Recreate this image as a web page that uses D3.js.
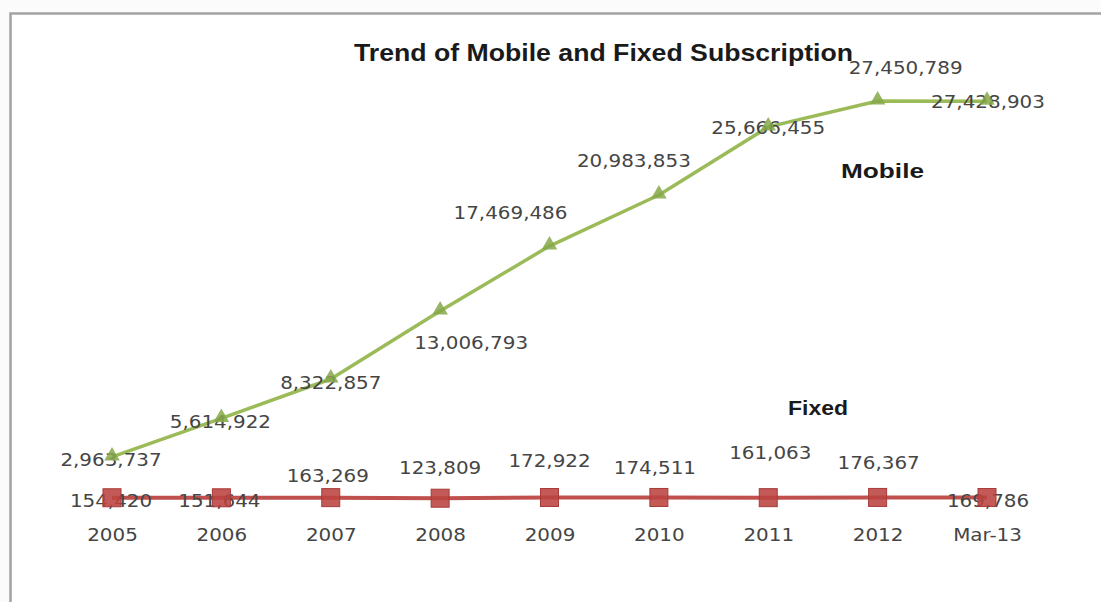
<!DOCTYPE html>
<html>
<head>
<meta charset="utf-8">
<script src="https://cdn.jsdelivr.net/npm/d3@7"></script>
<style>
  html, body { margin: 0; padding: 0; background: #ffffff; }
  svg { display: block; }
</style>
</head>
<body>
<svg id="chart" width="1101" height="602"></svg>
<script>
// Subscription counts by period
const categories = ["2005", "2006", "2007", "2008", "2009", "2010", "2011", "2012", "Mar-13"];
const mobile = [2963737, 5614922, 8322857, 13006793, 17469486, 20983853, 25666455, 27450789, 27428903];
const fixed = [154420, 151644, 163269, 123809, 172922, 174511, 161063, 176367, 169786];
const titleText = "Trend of Mobile and Fixed Subscription";
const seriesNames = ["Mobile", "Fixed"];

// Data label offsets from their markers [dx, dy]
const mobileLabelOffset = [[-1, 3], [-1, 3], [0, 4], [31, 32], [-39, -33], [-25, -34], [0, 1], [28, -33], [1, 1]];
const fixedLabelOffset = [[-1, 3], [-2, 3], [-3, -22], [0, -30], [0, -37], [-4, -30], [2, -45], [1, -35], [1, 3]];

const svg = d3.select("#chart");
const W = 1101, H = 602;

svg.append("rect").attr("width", W).attr("height", H).attr("fill", "#fbfbfb");
// chart frame
svg.append("rect")
  .attr("x", 10.5).attr("y", 13.5)
  .attr("width", W + 20).attr("height", H + 20)
  .attr("fill", "#ffffff")
  .attr("stroke", "#a3a3a3").attr("stroke-width", 2.5);

const x = d3.scalePoint().domain(categories).range([112, 987]);
const y = d3.scaleLinear().domain([0, 28000000]).range([500, 93]);

const fmt = d3.format(",");
const greenLine = "#9bbb59", greenMark = "#86a84a";
const redLine = "#c0504d", redMark = "#bb4340";
const labelFont = "'DejaVu Sans', Verdana, sans-serif";
const sx = 1.17;

const mobileData = categories.map((c, i) => ({ c, v: mobile[i], off: mobileLabelOffset[i] }));
const fixedData = categories.map((c, i) => ({ c, v: fixed[i], off: fixedLabelOffset[i] }));

const line = d3.line().x(d => x(d.c)).y(d => y(d.v));

// lines
svg.append("path").datum(mobileData)
  .attr("d", line).attr("fill", "none")
  .attr("stroke", greenLine).attr("stroke-width", 3.5).attr("stroke-linejoin", "round");
svg.append("path").datum(fixedData)
  .attr("d", line).attr("fill", "none")
  .attr("stroke", redLine).attr("stroke-width", 4).attr("stroke-linejoin", "round");

function addLabels(data) {
  svg.append("g").selectAll("text").data(data).join("text")
    .attr("transform", d => `translate(${x(d.c) + d.off[0]},${y(d.v) + d.off[1]}) scale(${sx},1)`)
    .attr("dy", "0.36em")
    .attr("text-anchor", "middle")
    .attr("font-family", labelFont)
    .attr("font-size", 17)
    .attr("fill", "#454545")
    .text(d => fmt(d.v));
}
addLabels(mobileData);
addLabels(fixedData);

// markers
const tri = d3.symbol().type(d3.symbolTriangle).size(105);
svg.append("g").selectAll("path").data(mobileData).join("path")
  .attr("d", tri)
  .attr("transform", d => `translate(${x(d.c)},${y(d.v) - 1})`)
  .attr("fill", greenMark).attr("fill-opacity", 0.85);

svg.append("g").selectAll("rect").data(fixedData).join("rect")
  .attr("x", d => x(d.c) - 9).attr("y", d => y(d.v) - 9)
  .attr("width", 18).attr("height", 18)
  .attr("fill", redMark).attr("fill-opacity", 0.88)
  .attr("stroke", "#a63b38").attr("stroke-width", 1);

// category axis labels, stretched horizontally about each tick
const xAxis = d3.axisBottom(x).tickSize(0).tickPadding(0);
const axisG = svg.append("g").attr("transform", "translate(0,535)").call(xAxis);
axisG.select(".domain").remove();
axisG.selectAll(".tick text")
  .attr("x", 0).attr("y", 0).attr("dy", "0.36em")
  .attr("font-family", labelFont)
  .attr("font-size", 17)
  .attr("fill", "#454545")
  .attr("transform", `scale(${sx},1)`);

// title
svg.append("text")
  .attr("x", 354).attr("y", 61)
  .attr("font-family", "'Liberation Sans', Arial, sans-serif")
  .attr("font-weight", "bold").attr("font-size", 24)
  .attr("fill", "#1a1a1a")
  .attr("textLength", 499).attr("lengthAdjust", "spacingAndGlyphs")
  .text(titleText);

// series name tags
svg.append("text")
  .attr("x", 841).attr("y", 178)
  .attr("font-family", "'Liberation Sans', Arial, sans-serif")
  .attr("font-weight", "bold").attr("font-size", 20)
  .attr("fill", "#1a1a1a")
  .attr("textLength", 83).attr("lengthAdjust", "spacingAndGlyphs")
  .text(seriesNames[0]);
svg.append("text")
  .attr("x", 788).attr("y", 415)
  .attr("font-family", "'Liberation Sans', Arial, sans-serif")
  .attr("font-weight", "bold").attr("font-size", 20)
  .attr("fill", "#1a1a1a")
  .attr("textLength", 60).attr("lengthAdjust", "spacingAndGlyphs")
  .text(seriesNames[1]);
</script>
</body>
</html>
